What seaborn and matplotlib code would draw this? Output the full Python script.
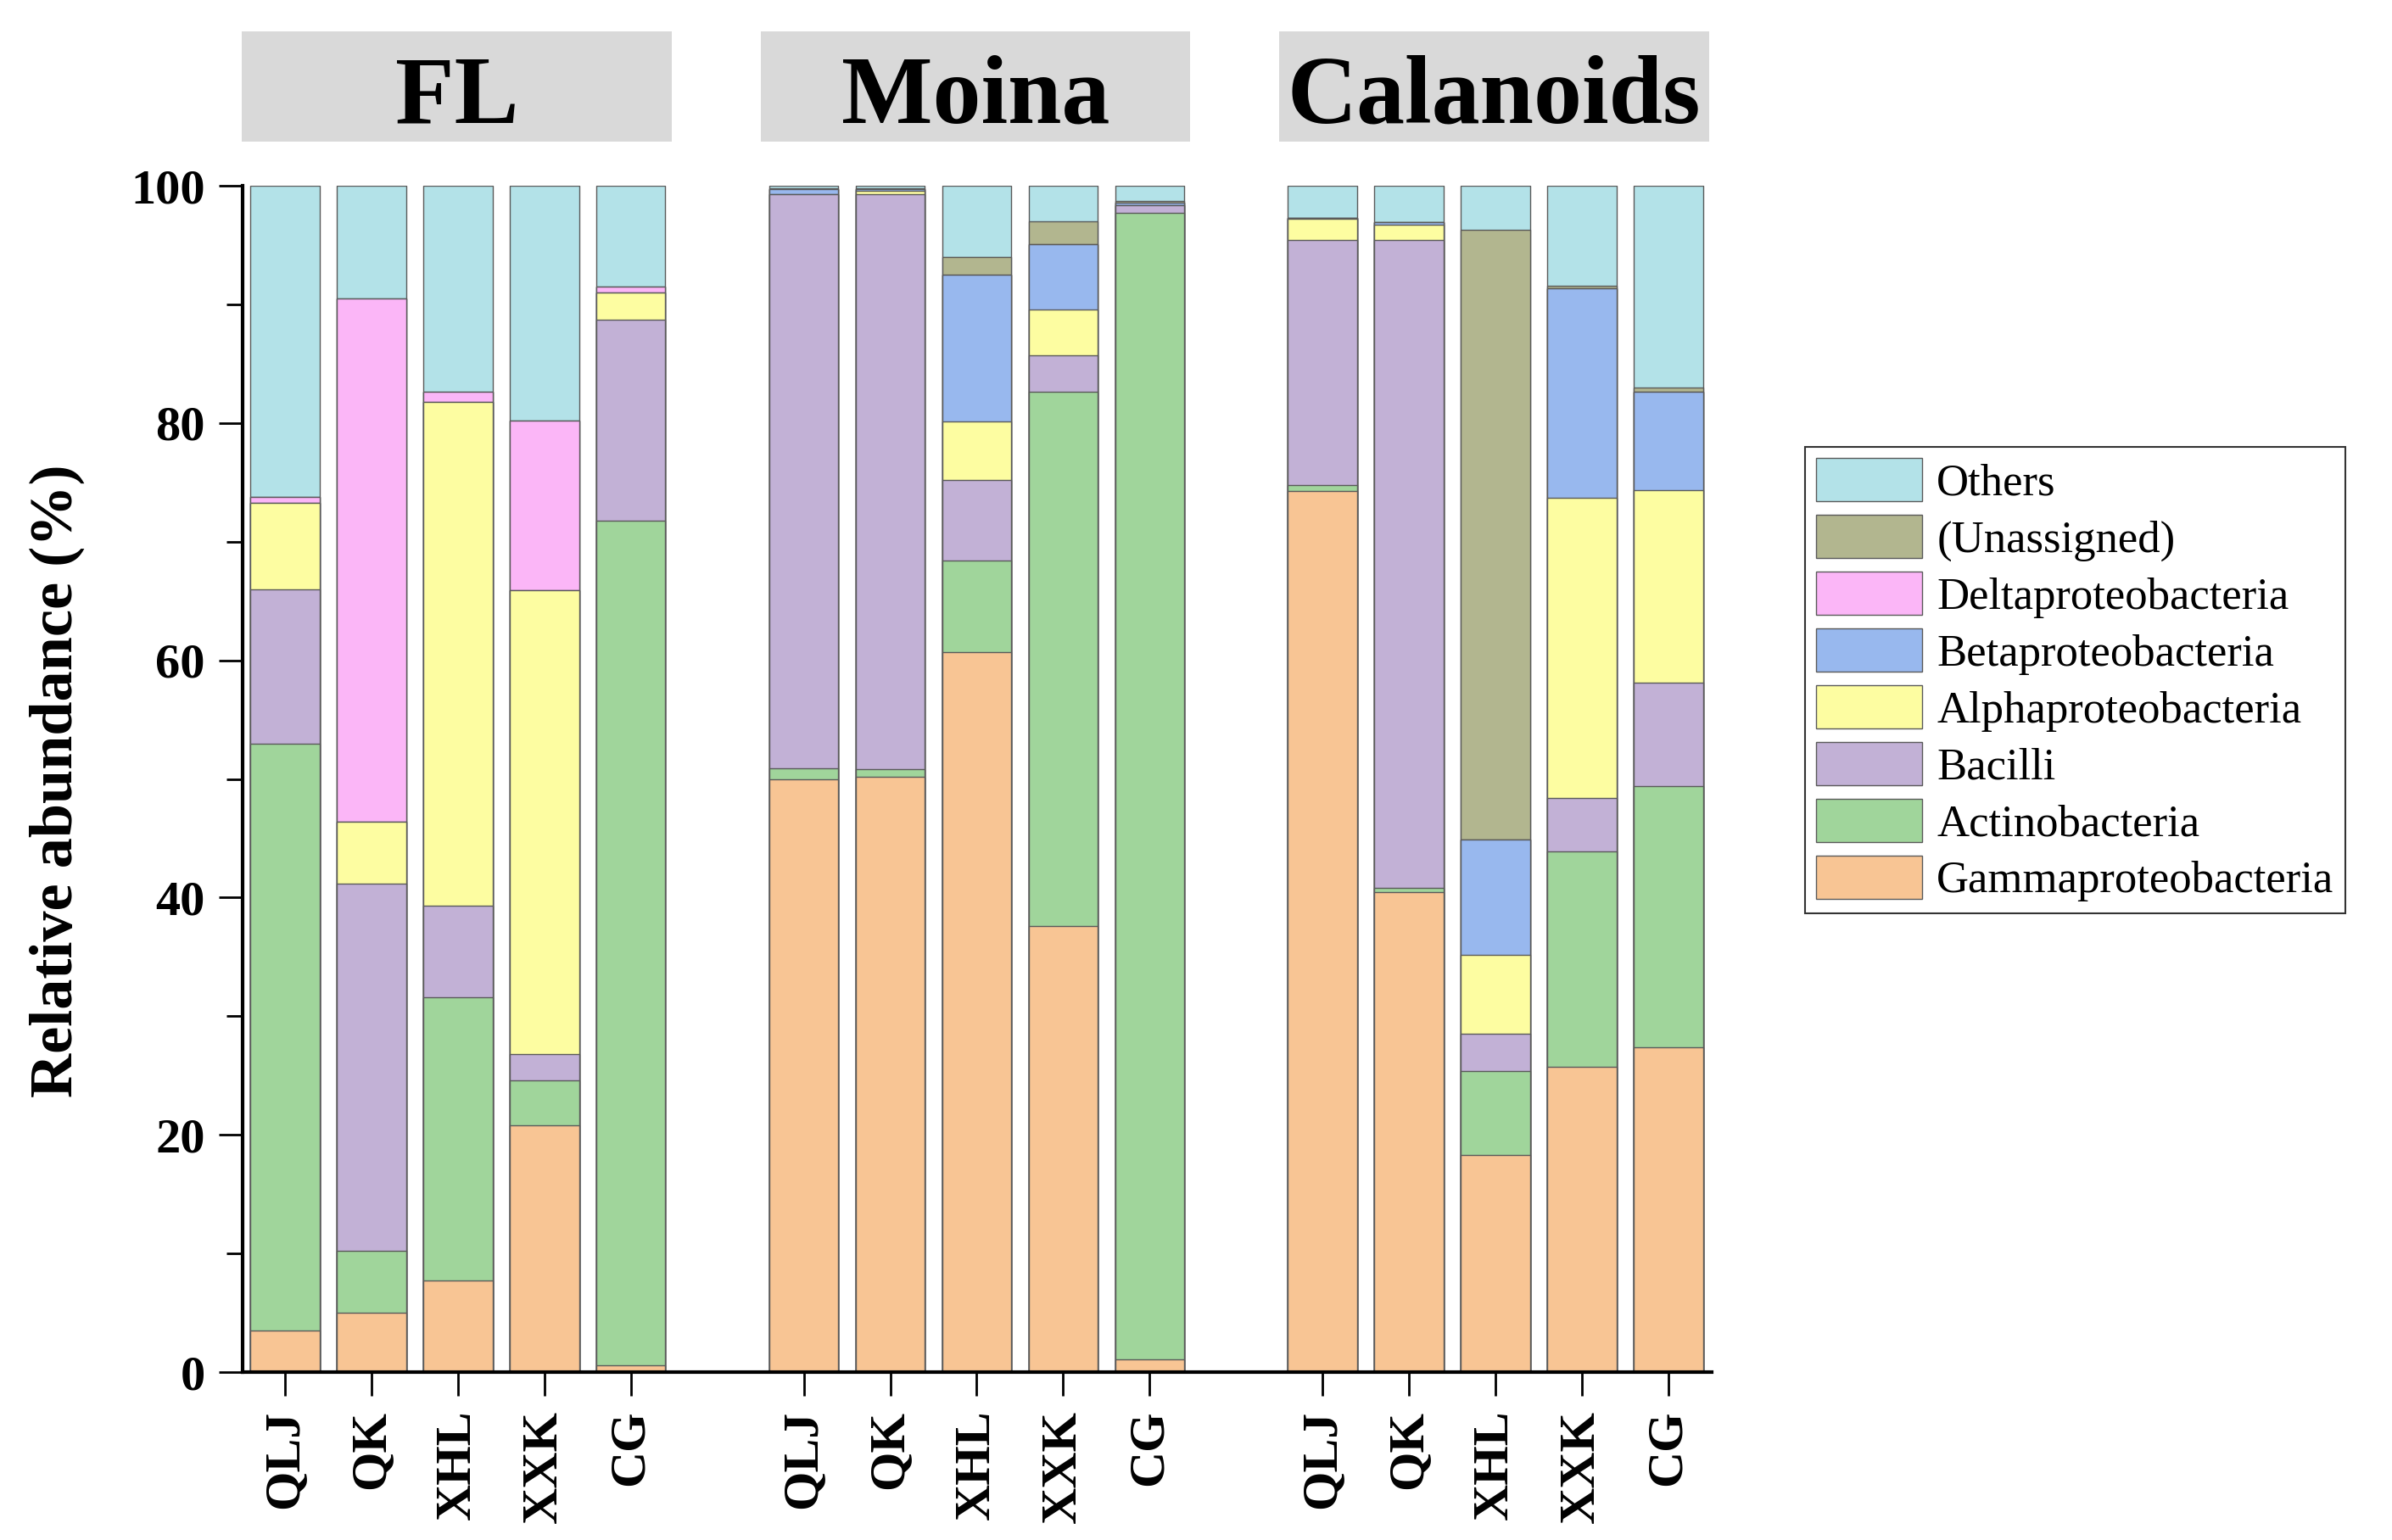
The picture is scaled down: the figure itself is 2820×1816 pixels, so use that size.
import matplotlib
matplotlib.use("Agg")
import matplotlib.pyplot as plt
import matplotlib.transforms as mtransforms
from matplotlib.patches import Rectangle, Patch
from matplotlib.ticker import MultipleLocator
import seaborn as sns
import pandas as pd
import numpy as np

# Grupos y muestras
groups = ["FL", "Moina", "Calanoids"]
samples = ["QLJ", "QK", "XHL", "XXK", "CG"]
positions = [0, 1, 2, 3, 4, 6, 7, 8, 9, 10, 12, 13, 14, 15, 16]

# Orden de apilado (de abajo hacia arriba)
taxa = ["Gammaproteobacteria", "Actinobacteria", "Bacilli", "Alphaproteobacteria",
        "Betaproteobacteria", "Deltaproteobacteria", "(Unassigned)", "Others"]

# Abundancias (%): FL x5, Moina x5, Calanoids x5
gamma = [3.5, 5.0, 7.7, 20.8, 0.6,   50.0, 50.2, 60.7, 37.6, 1.1,   74.3, 40.45, 18.3, 25.75, 27.4]
actino = [49.5, 5.2, 23.9, 3.8, 71.2,   0.9, 0.6, 7.7, 45.0, 96.6,   0.5, 0.4, 7.1, 18.15, 22.0]
bacilli = [13.0, 31.0, 7.7, 2.2, 16.9,   48.4, 48.5, 6.8, 3.1, 0.65,   20.6, 54.55, 3.1, 4.5, 8.7]
alpha = [7.3, 5.2, 42.5, 39.1, 2.3,   0.0, 0.3, 4.9, 3.85, 0.0,   1.8, 1.3, 6.7, 25.3, 16.25]
beta = [0.0, 0.0, 0.0, 0.0, 0.0,   0.4, 0.1, 12.4, 5.55, 0.25,   0.1, 0.2, 9.7, 17.65, 8.25]
delta = [0.5, 44.1, 0.8, 14.3, 0.5,   0.0, 0.0, 0.0, 0.0, 0.0,   0.0, 0.0, 0.0, 0.0, 0.0]
unassigned = [0.0, 0.0, 0.0, 0.0, 0.0,   0.1, 0.1, 1.5, 1.9, 0.1,   0.0, 0.0, 51.4, 0.25, 0.4]
others = [26.2, 9.5, 17.4, 19.8, 8.5,   0.2, 0.2, 6.0, 3.0, 1.3,   2.7, 3.1, 3.7, 8.4, 17.0]

colores = {
    "Gammaproteobacteria": "#F8C594",
    "Actinobacteria": "#A0D59B",
    "Bacilli": "#C2B1D6",
    "Alphaproteobacteria": "#FDFDA1",
    "Betaproteobacteria": "#98B8EE",
    "Deltaproteobacteria": "#FBB6F7",
    "(Unassigned)": "#B2B68F",
    "Others": "#B3E2E8",
}

valores = [gamma, actino, bacilli, alpha, beta, delta, unassigned, others]

# Tabla larga con sumas acumuladas para superponer las barras
df = pd.DataFrame(np.array(valores).T, columns=taxa)
df["pos"] = positions
cum = df[taxa].cumsum(axis=1)
cum["pos"] = positions
df_long = cum.melt(id_vars="pos", var_name="taxon", value_name="cum")

sns.set_style("ticks")
plt.rcParams["font.family"] = ["Liberation Serif", "DejaVu Serif"]
plt.rcParams["text.color"] = "black"
plt.rcParams["axes.labelcolor"] = "black"
plt.rcParams["xtick.color"] = "black"
plt.rcParams["ytick.color"] = "black"

fig = plt.figure(figsize=(28.2, 18.16), dpi=100)
ax = fig.add_axes([0.1014, 0.1090, 0.7156 - 0.1014, 0.8794 - 0.1090])

# Se pinta primero la capa superior y luego las de abajo encima
for t in taxa[::-1]:
    sub = df_long[df_long["taxon"] == t]
    sns.barplot(data=sub, x="pos", y="cum", native_scale=True, color=colores[t],
                saturation=1, width=0.8, edgecolor="#5a5a5a", linewidth=1.0,
                errorbar=None, ax=ax)

ax.set_xlim(-0.49, 16.5)
ax.set_ylim(0, 100)
ax.set_xticks(positions)
ax.set_xticklabels(samples * 3, rotation=90, fontsize=43, fontweight="bold", color="black")
ax.set_yticks([0, 20, 40, 60, 80, 100])
ax.yaxis.set_minor_locator(MultipleLocator(10))
ax.set_yticklabels([0, 20, 40, 60, 80, 100], fontsize=42, fontweight="bold", color="black")
ax.set_xlabel("")
ax.set_ylabel("")
ax.tick_params(axis="both", which="major", length=20, width=2.0, direction="out", pad=12, color="black")
ax.tick_params(axis="y", which="minor", length=14, width=2.0, direction="out", color="black")
for s in ["top", "right"]:
    ax.spines[s].set_visible(False)
for s in ["left", "bottom"]:
    ax.spines[s].set_linewidth(3.0)
    ax.spines[s].set_color("black")

fig.text(0.024, 0.493, "Relative abundance (%)", rotation=90, fontsize=52,
         fontweight="bold", ha="center", va="center", color="black")

# Cajas grises de cabecera de cada grupo
trans = mtransforms.blended_transform_factory(ax.transData, fig.transFigure)
for i, g in enumerate(groups):
    x0 = positions[i * 5] - 0.5
    x1 = positions[i * 5 + 4] + 0.47
    rect = Rectangle((x0, 0.908), x1 - x0, 0.9796 - 0.908, transform=trans,
                     facecolor="#D9D9D9", edgecolor="none", clip_on=False)
    ax.add_patch(rect)
    ax.text((x0 + x1) / 2, 0.9207, g, transform=trans, ha="center", va="baseline",
            fontsize=82, fontweight="bold", color="black")

handles = [Patch(facecolor=colores[t], edgecolor="#5a5a5a", linewidth=1.0) for t in taxa[::-1]]
leg = fig.legend(handles, taxa[::-1], loc="upper left", bbox_to_anchor=(0.7546, 0.7098),
                 fontsize=38, frameon=True, fancybox=False, edgecolor="black",
                 handlelength=2.37, handleheight=1.1, labelspacing=0.24,
                 handletextpad=0.32, borderpad=0.25, borderaxespad=0)
leg.get_frame().set_linewidth(1.5)
for txt in leg.get_texts():
    txt.set_color("black")

fig.savefig("out.png", dpi=100)
